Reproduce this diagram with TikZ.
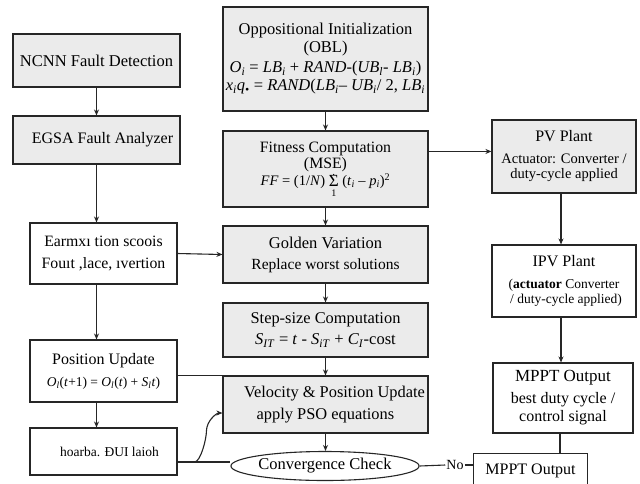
\documentclass[tikz,border=0pt]{standalone}
\usepackage{fontspec}
\setmainfont{Liberation Serif}
\usetikzlibrary{shapes.geometric,arrows.meta,calc}
\newcommand{\isb}[1]{\textsubscript{\textit{#1}}}
\newcommand{\fs}[2]{\fontsize{#1}{#2}\selectfont}
\newcommand{\dotsum}{{\ooalign{\fs{17}{17}\raisebox{-1.5pt}{Σ}\cr\hfil\raisebox{9.5pt}{\fs{11}{11}.}\hfil\cr\hfil\raisebox{-11pt}{\fs{10}{10}1}\hfil\cr}}}
\begin{document}
\begin{tikzpicture}[x=1pt,y=-1pt,
  box/.style={draw=black!85,line width=1.1pt,align=center,inner sep=1pt},
  gbox/.style={box,fill=black!8},
  wbox/.style={box,fill=white},
  conn/.style={draw=black!85,line width=1.1pt},
  arr/.style={conn,-{Stealth[length=6pt,width=5pt]}},
]
\useasboundingbox (0,0) rectangle (640,483);
\fill[white] (0,0) rectangle (640,483);
% left column
\node[gbox,minimum width=167,minimum height=53,font=\fs{16.5}{20}] (ncnn) at (96.5,60.5) {NCNN Fault Detection};
\node[gbox,minimum width=167,minimum height=48,font=\fs{16}{20}] (egsa) at (96.5,140) {\hspace*{12pt}EGSA Fault Analyzer};
\node[wbox,minimum width=147,minimum height=61,font=\fs{15.8}{22}] (earm) at (103.5,253.5) {Earmxı tion scoois\\ Fouıt ,lace, ıvertion};
\node[wbox,minimum width=147,minimum height=62,font=\fs{16}{22}] (pos) at (103.5,371) {Position Update\\ \fs{13.5}{22}\textit{O}\isb{l}(\textit{t}+1) = \textit{O}\isb{l}(\textit{t}) + \textit{S}\isb{l}\textit{t})};
\node[wbox,minimum width=147,minimum height=47,font=\fs{13.5}{18}] (hoarba) at (103.5,451.5) {\hspace*{12pt}hoarba. ĐUI laioh};
% center column
\node[gbox,minimum width=205,minimum height=104,font=\fs{16.5}{18}] (opp) at (325.5,59) {Oppositional Initialization\\ (OBL)\\[2pt]
 \textit{O}\isb{i} = \textit{LB}\isb{i} + \textit{RAND}-(\textit{UB}\isb{l}- \textit{LB}\isb{i})\\[0pt]
 \textit{x}\isb{i}\textit{q}\isb{•} = \textit{RAND}(\textit{LB}\isb{i}– \textit{UB}\isb{i}/ 2, \textit{LB}\isb{i}};
\node[gbox,minimum width=205,minimum height=76,font=\fs{15.8}{16.5}] (fit) at (325.5,169) {Fitness Computation\\ (MSE)\\
 \fs{14.5}{16.5}\textit{FF} = (1/\textit{N}) \dotsum\ (\textit{t}\isb{i} – \textit{p}\isb{i})\textsuperscript{2}};
\node[gbox,minimum width=205,minimum height=57,font=\fs{16.5}{21}] (gold) at (325.5,254.5) {Golden Variation\\ \fs{15.5}{21}Replace worst solutions};
\node[gbox,minimum width=205,minimum height=54,font=\fs{16.4}{21}] (step) at (325.5,330) {Step-size Computation\\ \fs{16.5}{21}\textit{S}\isb{IT} = \textit{t} - \textit{S}\isb{iT} + \textit{C}\isb{I}-cost};
\node[gbox,minimum width=205,minimum height=57,font=\fs{16.4}{22}] (vel) at (325.5,404.5) {\hspace*{18pt}Velocity \& Position Update\\ apply PSO equations};
\node[ellipse,draw=black!85,line width=1.1pt,fill=white,minimum width=176,minimum height=29,inner sep=0pt,font=\fs{16.5}{18}] (conv) at (325,466) {Convergence Check};
% right column
\node[gbox,minimum width=144,minimum height=73,font=\fs{14.5}{15}] (pv) at (564,156.5) {\fs{16}{15}PV Plant\\[7pt] Actuator: Converter /\\ duty-cycle applied};
\node[wbox,minimum width=144,minimum height=72,font=\fs{13.5}{15}] (ipv) at (564,281) {\fs{16}{15}IPV Plant\\[7pt] (\textbf{actuator} Converter\\ \hspace*{4pt}/ duty-cycle applied)};
\node[wbox,minimum width=140,minimum height=70,font=\fs{16}{18}] (mppt) at (563,398) {\fs{17}{18}MPPT Output\\[4pt] best duty cycle /\\ control signal};
\node[wbox,minimum width=114,minimum height=34,anchor=north west,font=\fs{16}{18}] (mppt2) at (473,453) {MPPT Output};
\node[inner sep=1pt,font=\fs{14}{16}] (no) at (455,465) {No};
% connectors
\draw[arr] (ncnn.south) -- (egsa.north);
\draw[arr] (egsa.south) -- (egsa.south |- earm.north);
\draw[arr] (egsa.south |- earm.south) -- (egsa.south |- pos.north);
\draw[arr] (egsa.south |- pos.south) -- (egsa.south |- hoarba.north);
\draw[arr] (earm.east) -- (gold.west);
\draw[conn] (pos.east |- vel.north west) -- (vel.north west);
\coordinate (cstart) at ($(hoarba.east)+(0,10.5)$);
\coordinate (ctip) at ($(vel.west)+(0,8.5)$);
\draw[conn] (cstart) -- (conv.west |- cstart);
\draw[arr] ($(cstart)+(17,0)$) .. controls +(6,0) and +(0,8) .. ($(ctip)+(-16,18)$) .. controls +(0,-10) and +(-6,0) .. (ctip);
\draw[arr] (opp.south) -- (fit.north);
\draw[arr] (fit.south) -- (gold.north);
\draw[arr] (gold.south) -- (step.north);
\draw[arr] (step.south) -- (vel.north);
\draw[arr] (vel.south) -- (vel.south |- conv.north);
\draw[arr] ([yshift=-21pt]fit.north east) -- ([yshift=-21pt]fit.north east -| pv.west);
\draw[arr] ([xshift=-3pt]pv.south) -- ([xshift=-3pt]pv.south |- ipv.north);
\draw[arr] ([xshift=-3pt]ipv.south) -- ([xshift=-3pt]ipv.south |- mppt.north);
\draw[conn] ([xshift=-3pt]mppt.south) -- ([xshift=-3pt]mppt.south |- mppt2.north);
\draw[conn] (conv.east) -- (no.west);
\draw[conn] (no.east) -- (no.east -| mppt2.west);
\end{tikzpicture}
\end{document}
